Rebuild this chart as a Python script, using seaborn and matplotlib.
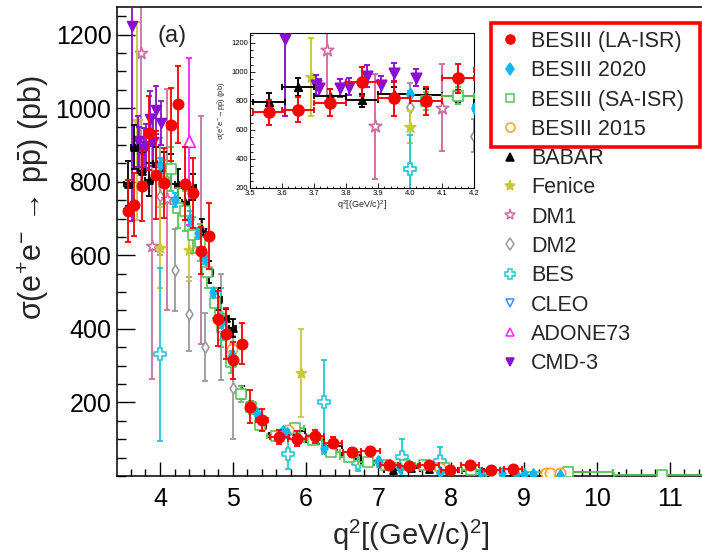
import matplotlib
matplotlib.use("Agg")
import matplotlib.pyplot as plt
import seaborn as sns
from matplotlib.lines import Line2D
from matplotlib.patches import Rectangle
from matplotlib.ticker import MultipleLocator, FixedLocator

# ---------------- data: q^2 [(GeV/c)^2], sigma [pb] ----------------
la_x = [3.56, 3.65, 3.75, 3.85, 3.95, 4.05, 4.15, 4.25, 4.35, 4.45, 4.57, 4.67, 4.80, 4.90,
        5.00, 5.13, 5.24, 5.40, 5.64, 5.88, 6.13, 6.38, 6.64, 6.89, 7.15, 7.42, 7.70, 7.98,
        8.26, 8.55, 8.85]
la_y = [720, 738, 788, 932, 818, 797, 955, 1010, 795, 770, 613, 652, 428, 387,
        315, 360, 188, 151, 106, 101, 108, 90, 64, 68, 29, 27, 31, 17,
        29, 17, 19]
la_yerr = [85, 85, 95, 100, 120, 95, 100, 105, 100, 95, 65, 90, 75, 70,
           50, 55, 45, 30, 20, 20, 18, 15, 12, 12, 8, 8, 8, 6,
           7, 5, 5]
la_xerr = [0.05] * 17 + [0.08] + [0.125] * 13

b20_x = [4.0, 4.2025, 4.41, 4.5156, 4.6225, 4.7306, 4.84, 4.9841, 5.3333, 5.6951, 5.7408,
         6.25, 6.9928, 7.0034, 7.29, 7.84, 8.41, 8.7025, 8.8864, 9.0, 9.1204, 9.4864]
b20_y = [845, 750, 700, 660, 590, 500, 415, 330, 170, 122, 118,
         76, 40, 38, 22, 12, 9, 7, 6, 5, 6, 4]
b20_yerr = [20, 18, 20, 15, 15, 12, 12, 10, 8, 6, 6,
            5, 4, 4, 3, 2, 2, 1, 1, 1, 1, 1]

sa_x = [4.05, 4.15, 4.25, 4.35, 4.45, 4.55, 4.65, 4.75, 4.85, 4.98, 5.11, 5.25, 5.37,
        5.60, 5.85, 6.10, 6.35, 6.60, 6.85, 7.10, 7.37, 7.63, 7.90, 8.27, 8.60, 9.60, 10.90]
sa_y = [800, 835, 728, 720, 655, 635, 555, 470, 405, 310, 222, 187, 140,
        108, 130, 97, 65, 53, 38, 30, 29, 29, 22, 17, 4, 12, 3]
sa_yerr = [60, 60, 55, 55, 50, 50, 45, 40, 35, 30, 22, 18, 15,
           12, 12, 10, 8, 7, 6, 5, 5, 5, 4, 3, 2, 2, 1]
sa_xerr = [0.05] * 13 + [0.125] * 12 + [0.62, 0.66]

b15_x = [4.9841, 5.76, 7.84, 9.30, 9.36, 9.49]
b15_y = [345, 125, 22, 8, 7, 7]
b15_yerr = [15, 8, 3, 1, 1, 1]

babar_x = [3.56, 3.65, 3.75, 3.85, 3.95, 4.05, 4.15, 4.25, 4.35, 4.45, 4.58, 4.68, 4.80,
           4.90, 5.00, 5.13, 5.25, 5.40, 5.62, 5.87, 6.13, 6.38, 6.63, 6.88, 7.20, 7.44,
           7.70, 7.97, 8.27, 8.57, 9.60, 10.90]
babar_y = [795, 895, 830, 805, 850, 840, 835, 795, 745, 785, 665, 555, 480,
           430, 402, 228, 190, 138, 112, 122, 97, 82, 56, 42, 17, 22,
           20, 15, 14, 13, 10, 2]
babar_yerr = [60, 60, 50, 45, 45, 40, 40, 40, 35, 35, 35, 30, 30,
              25, 25, 18, 15, 12, 10, 10, 8, 7, 6, 5, 4, 4,
              4, 3, 3, 3, 2, 1]
babar_xerr = [0.05] * 18 + [0.125] * 12 + [0.3, 0.6]

fenice_x = [3.69, 4.0, 4.4, 5.94]
fenice_y = [965, 620, 615, 280]
fenice_yerr = [270, 110, 85, 120]

dm1_x = [3.74, 3.89, 4.10, 4.56]
dm1_y = [1150, 625, 752, 670]
dm1_yerr = [350, 360, 300, 310]

dm2_x = [4.0, 4.2, 4.4, 4.62, 4.84, 5.0]
dm2_y = [760, 560, 440, 350, 405, 240]
dm2_yerr = [160, 112, 100, 92, 145, 140]

bes_x = [4.0, 4.84, 5.76, 6.25, 6.72, 7.33, 7.84]
bes_y = [331, 430, 60, 201, 34, 51, 40]
bes_yerr = [235, 80, 42, 115, 20, 50, 38]

cleo_x = [13.48]
cleo_y = [1.2]
cleo_yerr = [0.3]

adone_x = [4.40]
adone_y = [910]
adone_yerr = [227]

cmd3_x = [3.61, 3.705, 3.715, 3.78, 3.81, 3.865, 3.91, 3.95, 4.02]
cmd3_y = [1223, 910, 890, 887, 897, 971, 909, 994, 959]
cmd3_yerr = [530, 70, 60, 60, 60, 75, 65, 65, 60]

x_ticks = [4, 5, 6, 7, 8, 9, 10, 11]
y_ticks = [200, 400, 600, 800, 1000, 1200]
inset_x_ticks = [3.5, 3.6, 3.7, 3.8, 3.9, 4.0, 4.1, 4.2]

# ---------------- styles ----------------
series = [
    # label, x, y, xerr, yerr, colour, marker, filled, size, zorder
    ("DM2", dm2_x, dm2_y, None, dm2_yerr, "#9a9a9a", "d", False, 34, 2),
    ("DM1", dm1_x, dm1_y, None, dm1_yerr, "#cc6fa0", "*", False, 80, 2.1),
    ("Fenice", fenice_x, fenice_y, None, fenice_yerr, "#c8c83a", "*", True, 60, 2.2),
    ("BES", bes_x, bes_y, None, bes_yerr, "#22c8d0", "P", False, 70, 2.3),
    ("CLEO", cleo_x, cleo_y, None, cleo_yerr, "#3b8cff", "v", False, 50, 2.4),
    ("ADONE73", adone_x, adone_y, None, adone_yerr, "#ff22ff", "^", False, 70, 2.5),
    ("CMD-3", cmd3_x, cmd3_y, None, cmd3_yerr, "#8a0fd0", "v", True, 50, 2.6),
    ("BABAR", babar_x, babar_y, babar_xerr, babar_yerr, "#000000", "^", True, 26, 3),
    ("BESIII (SA-ISR)", sa_x, sa_y, sa_xerr, sa_yerr, "#5cc35c", "s", False, 55, 3.2),
    ("BESIII 2015", b15_x, b15_y, None, b15_yerr, "#ffa020", "o", False, 55, 3.4),
    ("BESIII 2020", b20_x, b20_y, None, b20_yerr, "#10b8f0", "d", True, 34, 3.6),
    ("BESIII (LA-ISR)", la_x, la_y, la_xerr, la_yerr, "#ff0000", "o", True, 55, 4),
]
legend_order = ["BESIII (LA-ISR)", "BESIII 2020", "BESIII (SA-ISR)", "BESIII 2015",
                "BABAR", "Fenice", "DM1", "DM2", "BES", "CLEO", "ADONE73", "CMD-3"]

sns.set_theme(style="ticks")
plt.rcParams["font.family"] = ["Liberation Sans", "DejaVu Sans"]
plt.rcParams["mathtext.fontset"] = "custom"
plt.rcParams["mathtext.rm"] = "Liberation Sans"
plt.rcParams["mathtext.it"] = "Liberation Sans:italic"
plt.rcParams["mathtext.bf"] = "Liberation Sans:bold"
plt.rcParams["axes.edgecolor"] = "black"
plt.rcParams["xtick.color"] = "black"
plt.rcParams["ytick.color"] = "black"

W, H = 702, 553
fig = plt.figure(figsize=(W / 100, H / 100), dpi=100)
fig.patch.set_facecolor("white")


def px_axes(l, t, r, b):
    return [l / W, 1 - b / H, (r - l) / W, (b - t) / H]


def draw_series(ax, scale=1.0):
    for lab, x, y, xe, ye, col, mk, filled, s, z in series:
        ax.errorbar(x, y, xerr=xe, yerr=ye, fmt="none", ecolor=col,
                    elinewidth=1.3 * scale, capsize=2.0 * scale, capthick=1.3 * scale,
                    zorder=z)
        sns.scatterplot(x=x, y=y, marker=mk, s=s * scale ** 2,
                        color=col if filled else "white", edgecolor=col,
                        linewidth=1.2 * scale, ax=ax, zorder=z + 0.05, legend=False)


# ---------------- main panel ----------------
ax = fig.add_axes(px_axes(117, 7, 704, 476))
draw_series(ax)
ax.set_xlim(3.41, 11.47)
ax.set_ylim(0, 1275)
ax.xaxis.set_major_locator(FixedLocator(x_ticks))
ax.xaxis.set_minor_locator(MultipleLocator(0.2))
ax.yaxis.set_major_locator(FixedLocator(y_ticks))
ax.yaxis.set_minor_locator(MultipleLocator(50))
ax.tick_params(which="both", direction="in", top=False, right=False, labelsize=18, width=1.0)
ax.tick_params(axis="x", which="major", length=10, pad=8)
ax.tick_params(axis="x", which="minor", length=5)
ax.tick_params(axis="y", which="major", length=13, pad=4)
ax.tick_params(axis="y", which="minor", length=6.5)
for sp in ax.spines.values():
    sp.set_linewidth(1.1)
ax.spines["right"].set_visible(False)
ax.set_xlabel(r"q$^{2}$[(GeV/c)$^{2}$]", fontsize=21)
ax.set_ylabel(r"σ(e$^{+}$e$^{-}$ → p$\bar{\mathrm{p}}$) (pb)", fontsize=22)
ax.xaxis.set_label_coords(0.5, -0.089)
ax.yaxis.set_label_coords(-0.113, 0.593)
ax.text(172 / W, 1 - 36 / H, "(a)", transform=fig.transFigure, fontsize=17,
        ha="center", va="center")

# ---------------- inset ----------------
axin = fig.add_axes(px_axes(250, 33, 474, 188))
axin.set_facecolor("white")
draw_series(axin, scale=1.05)
axin.set_xlim(3.5, 4.2)
axin.set_ylim(200, 1267)
axin.xaxis.set_major_locator(FixedLocator(inset_x_ticks))
axin.xaxis.set_minor_locator(MultipleLocator(0.02))
axin.yaxis.set_major_locator(MultipleLocator(200))
axin.yaxis.set_minor_locator(MultipleLocator(50))
axin.tick_params(which="both", direction="in", top=False, right=False, labelsize=5.5,
                 width=0.6, pad=1.5)
axin.tick_params(which="major", length=3.5)
axin.tick_params(which="minor", length=1.8)
for sp in axin.spines.values():
    sp.set_linewidth(0.8)
axin.set_xlabel(r"q$^{2}$[(GeV/c)$^{2}$]", fontsize=6.5, labelpad=1)
axin.set_ylabel(r"σ(e$^{+}$e$^{-}$→p$\bar{\mathrm{p}}$) (pb)", fontsize=5.5, labelpad=2)

# ---------------- legend ----------------
style = {s[0]: s for s in series}
handles = []
for lab in legend_order:
    _, _, _, _, _, col, mk, filled, s, _ = style[lab]
    ms = {"o": 6.5, "d": 6, "s": 6, "^": 6, "v": 6, "*": 8, "P": 7.5}[mk]
    handles.append(Line2D([], [], linestyle="none", marker=mk, markersize=ms,
                          markerfacecolor=col if filled else "white",
                          markeredgecolor=col, markeredgewidth=1.1, label=lab))
fig.legend(handles=handles, loc="upper left", bbox_to_anchor=(499 / W, 1 - 31 / H),
           frameon=False, fontsize=15.5, handlelength=1.0, handletextpad=0.5,
           labelspacing=0.385, borderpad=0, borderaxespad=0)
fig.add_artist(Rectangle((491 / W, 1 - 147 / H), 209 / W, 124 / H, fill=False,
                         edgecolor="#ff0000", linewidth=2.6, transform=fig.transFigure))

fig.savefig("out.png", dpi=100, facecolor="white")
